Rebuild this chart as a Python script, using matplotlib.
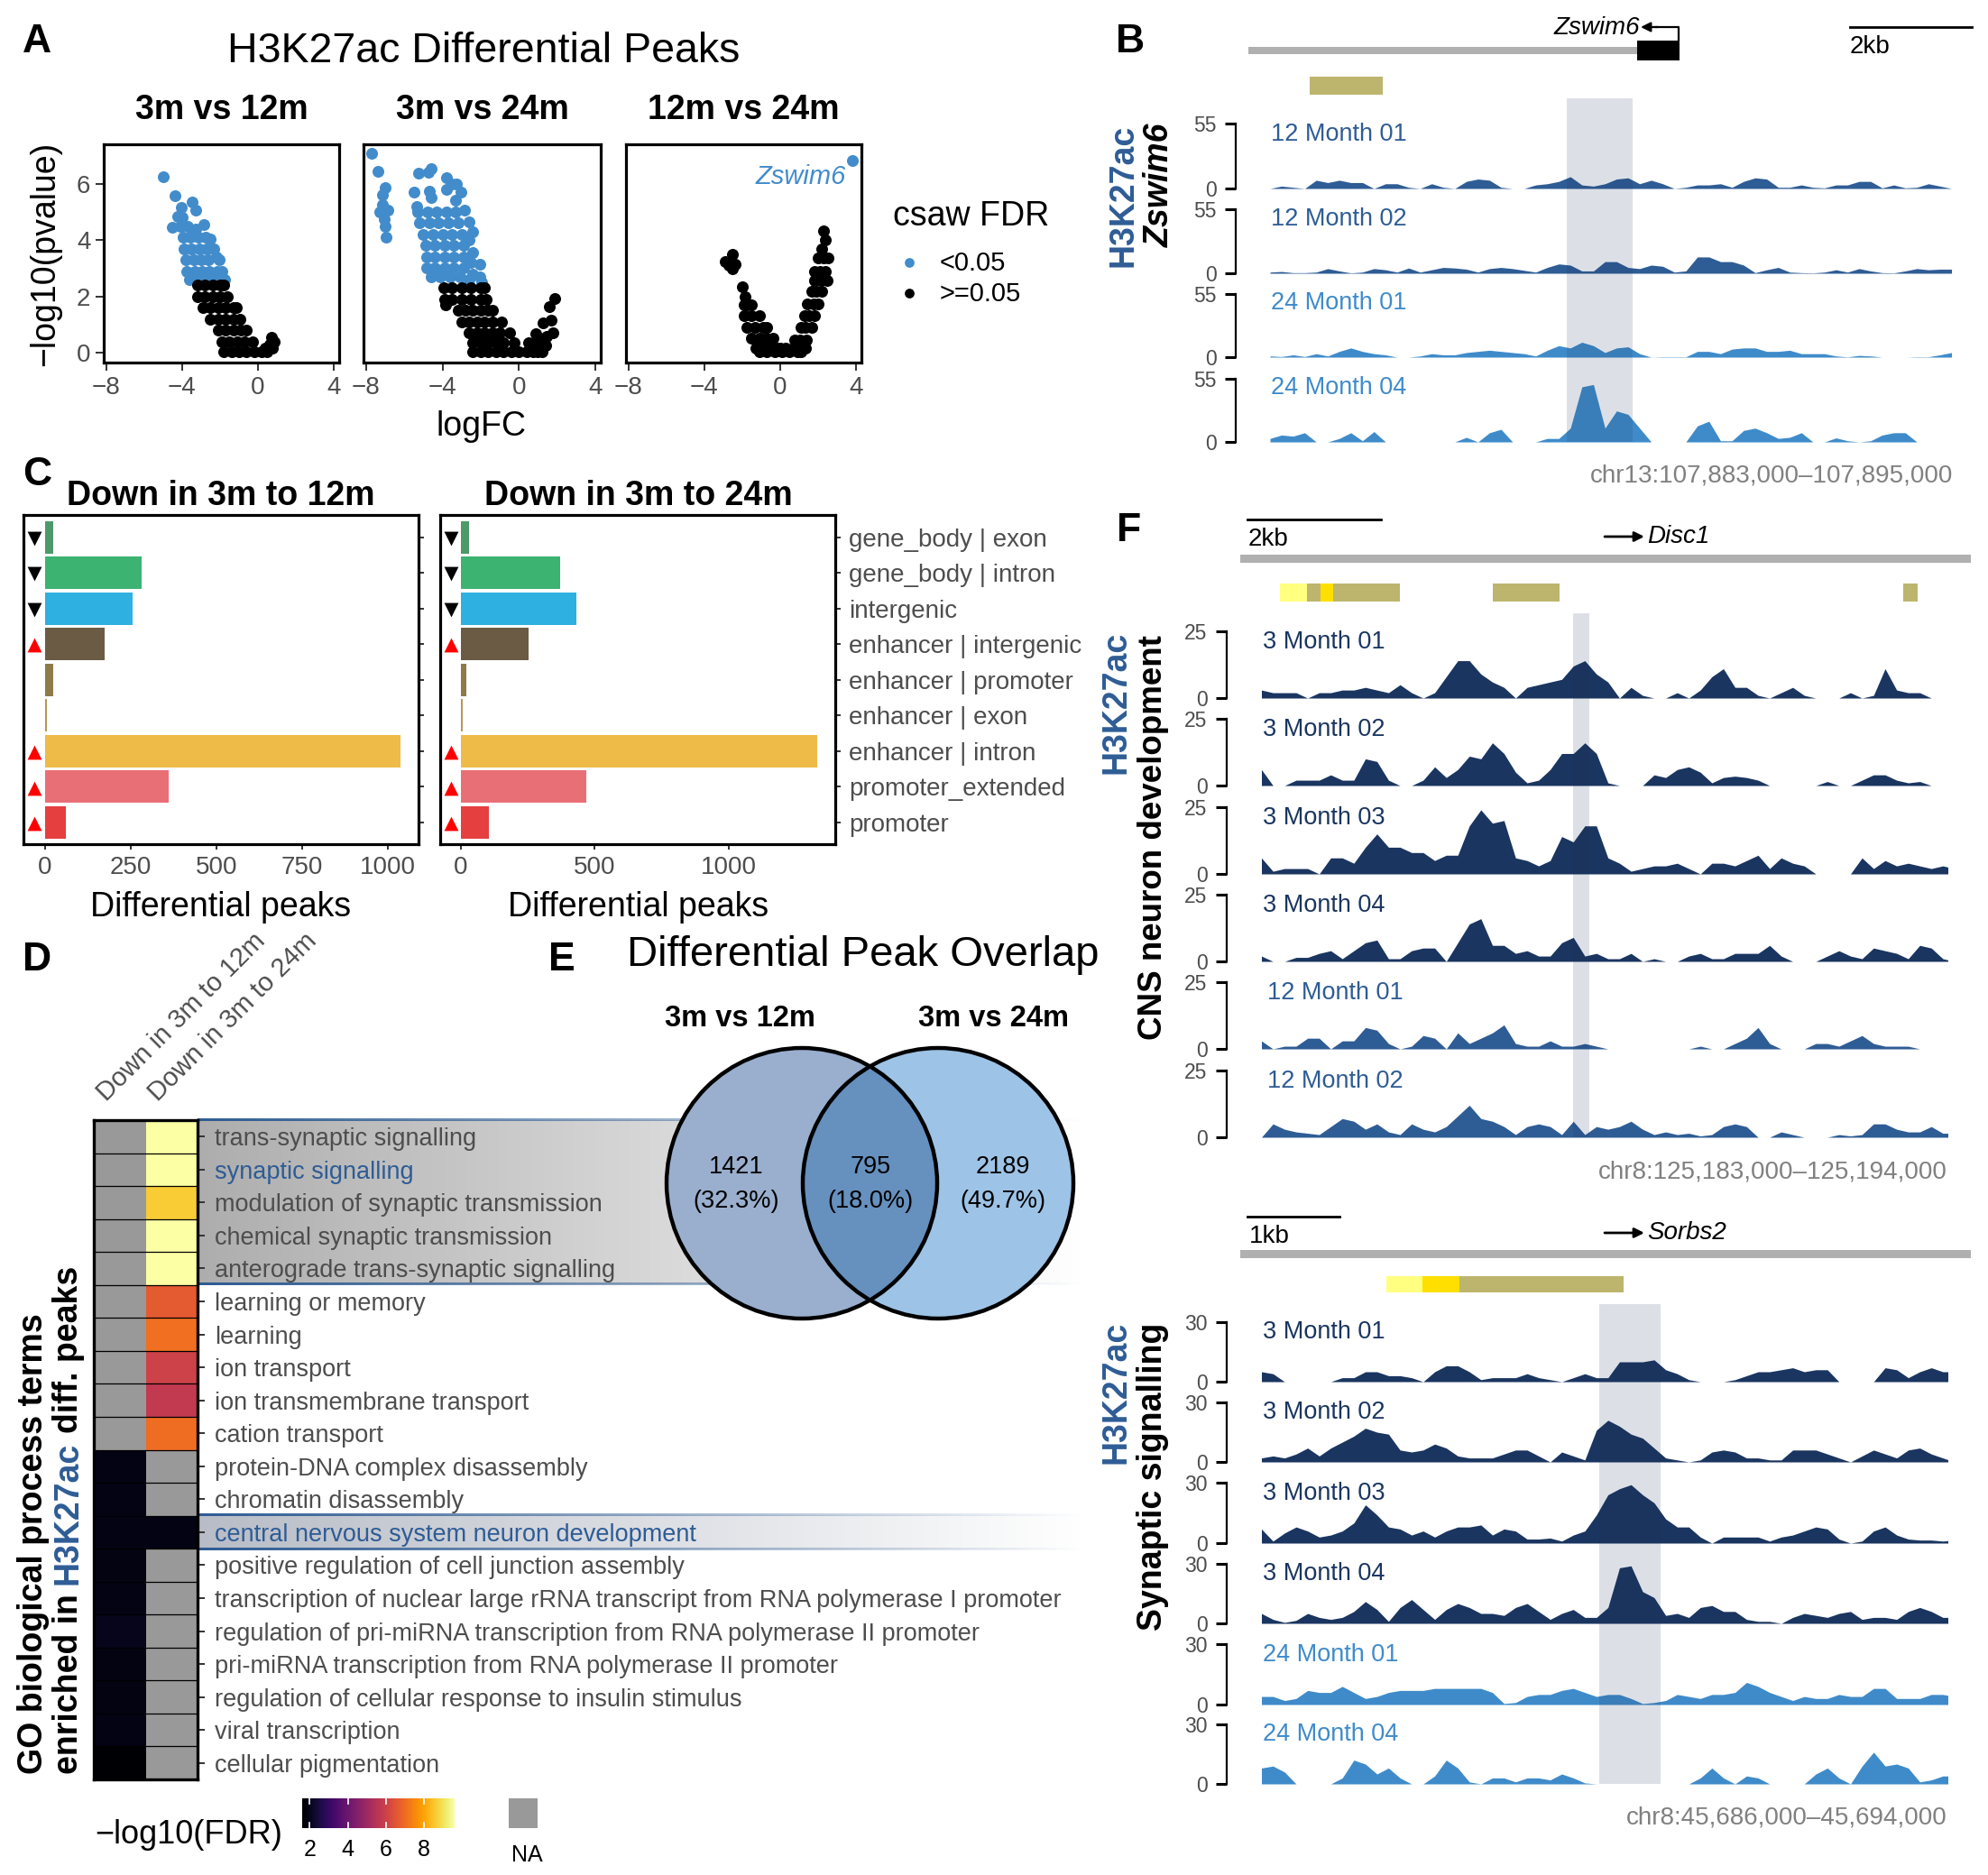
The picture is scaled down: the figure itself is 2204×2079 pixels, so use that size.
import numpy as np
import matplotlib
matplotlib.use('Agg')
import matplotlib.pyplot as plt
from matplotlib.patches import Rectangle, Circle

plt.rcParams['font.family'] = ['Liberation Sans', 'DejaVu Sans']

W, H = 2204, 2079
GREY = '#4D4D4D'
NAVY, MID, LIGHT = '#1A3560', '#2E5C95', '#3F8BCA'
KHAKI, PALE, GOLD = '#BDB56E', '#FFFF80', '#FFDF00'

# ---------------- A: volcano points (logFC, -log10 p)
P1_BLUE = [(-5.0,6.25),(-4.4,5.57),(-3.47,5.36),(-3.3,5.06),(-4.05,5.15),(-4.25,4.85),(-4.0,4.8),(-4.5,4.45),(-4.1,4.5),
           (-3.7,4.5),(-3.3,4.4),(-2.85,4.55),(-3.95,4.1),(-3.55,4.1),(-3.15,4.1),(-2.75,4.1),(-2.5,4.05),
           (-3.9,3.7),(-3.5,3.7),(-3.1,3.7),(-2.7,3.7),(-2.35,3.7),(-3.8,3.3),(-3.4,3.3),(-3.0,3.3),(-2.6,3.3),(-2.2,3.4),(-2.05,3.3),
           (-3.75,2.9),(-3.35,2.9),(-2.95,2.9),(-2.55,2.9),(-2.15,2.9),(-1.9,2.9),(-3.6,2.6),(-3.2,2.6),(-2.8,2.6),(-2.4,2.6),(-2.0,2.6),(-1.75,2.6)]
P1_BLACK = [(-3.2,2.4),(-2.8,2.4),(-2.4,2.4),(-2.0,2.4),(-1.8,2.4),(-3.2,2.0),(-2.8,2.0),(-2.4,2.0),(-2.0,2.0),(-1.6,2.0),
            (-2.9,1.6),(-2.5,1.6),(-2.1,1.6),(-1.7,1.6),(-1.3,1.6),(-1.15,1.6),(-2.5,1.2),(-2.1,1.2),(-1.7,1.2),(-1.3,1.2),(-0.95,1.2),
            (-2.1,0.8),(-1.7,0.8),(-1.3,0.8),(-0.9,0.8),(-0.6,0.8),(-1.9,0.4),(-1.5,0.4),(-1.1,0.4),(-0.7,0.4),(-0.3,0.4),
            (-1.8,0.04),(-1.4,0.04),(-1.0,0.04),(-0.6,0.04),(-0.2,0.04),(0.2,0.04),(0.5,0.04),
            (0.7,0.55),(0.85,0.4),(0.6,0.3),(0.4,0.15),(0.75,0.15)]
P2_BLUE = [(-7.7,7.09),(-7.4,6.43),(-7.0,5.86),(-7.15,5.6),(-7.15,5.27),(-7.3,5.0),(-6.85,5.05),(-7.0,4.47),(-6.95,4.1),(-7.05,4.75),
           (-5.25,6.36),(-4.6,6.55),(-4.75,6.4),(-3.8,6.2),(-3.25,6.0),(-3.05,5.7),(-3.5,6.0),(-4.7,5.75),(-4.6,5.5),(-5.5,5.7),(-5.35,5.2),
           (-3.8,5.8),(-3.3,5.4),(-2.85,5.05),(-2.6,4.63),(-2.4,4.3),(-2.4,3.56),(-2.05,3.13),(-2.05,2.7),
           (-5.3,5.0),(-4.8,5.0),(-4.3,5.0),(-3.8,5.0),(-3.3,5.0),(-5.2,4.6),(-4.7,4.6),(-4.2,4.6),(-3.7,4.6),(-3.2,4.6),
           (-5.0,4.2),(-4.5,4.2),(-4.0,4.2),(-3.5,4.2),(-3.0,4.2),(-2.6,4.0),(-4.9,3.8),(-4.4,3.8),(-3.9,3.8),(-3.4,3.8),(-2.9,3.8),
           (-4.85,3.4),(-4.4,3.4),(-3.9,3.4),(-3.4,3.4),(-2.9,3.4),(-2.5,3.2),(-4.85,3.0),(-4.4,3.0),(-3.9,3.0),(-3.4,3.0),(-2.9,3.0),(-2.4,2.8),
           (-4.6,2.7),(-4.1,2.7),(-3.6,2.7),(-3.1,2.7),(-2.6,2.6),(-1.95,2.5)]
P2_BLACK = [(-3.95,2.3),(-3.5,2.3),(-3.0,2.3),(-2.5,2.3),(-2.0,2.3),(-1.8,2.3),(-3.9,1.9),(-3.5,1.9),(-3.0,1.9),(-2.5,1.9),(-2.0,1.9),(-1.7,1.9),
            (-3.85,1.7),(-3.2,1.5),(-2.8,1.5),(-2.4,1.5),(-2.0,1.5),(-1.6,1.5),(-1.4,1.5),(-3.0,1.1),(-2.6,1.1),(-2.2,1.1),(-1.8,1.1),(-1.4,1.1),(-0.9,1.1),
            (-2.6,0.7),(-2.2,0.7),(-1.8,0.7),(-1.4,0.7),(-1.0,0.7),(-0.5,0.7),(-2.4,0.35),(-2.0,0.35),(-1.6,0.35),(-1.2,0.35),(-0.8,0.35),(-0.25,0.35),
            (-2.4,0.04),(-2.0,0.04),(-1.6,0.04),(-1.2,0.04),(-0.8,0.04),(-0.4,0.04),(0.0,0.04),(0.4,0.04),(0.75,0.04),(1.0,0.04),(1.2,0.04),
            (1.9,1.93),(1.6,1.64),(1.7,1.15),(1.25,1.05),(1.8,0.72),(1.45,0.57),(0.9,0.67),(0.5,0.35),(1.05,0.14),(1.4,0.25),(1.2,0.4),(0.8,0.35)]
P3_BLUE = [(3.8,6.82)]
P3_BLACK = [(-2.5,3.5),(-2.9,3.24),(-2.4,3.13),(-2.5,2.97),(-2.7,3.1),(-2.0,2.35),(-1.85,2.0),(-1.9,1.7),(-1.75,1.7),(-1.5,1.7),(-1.9,1.3),(-1.5,1.3),(-1.1,1.3),
            (-1.75,0.9),(-1.35,0.9),(-0.9,0.9),(-0.7,0.9),(-1.5,0.5),(-1.1,0.5),(-0.7,0.5),(-0.4,0.5),(-1.3,0.15),(-0.9,0.15),(-0.5,0.15),(-0.2,0.15),(0.0,0.15),(0.3,0.15),(0.7,0.15),(1.1,0.15),(1.35,0.15),
            (-1.1,0.04),(-0.7,0.04),(-0.3,0.04),(0.1,0.04),(0.5,0.04),(0.9,0.04),(1.1,0.04),
            (2.3,4.31),(2.37,4.0),(2.2,3.67),(2.55,3.35),(2.0,3.35),(2.3,3.35),(1.8,2.9),(2.37,2.9),(2.1,2.9),(2.48,2.55),(1.8,2.55),(2.15,2.55),(1.65,2.17),(2.2,2.17),(1.9,2.17),
            (1.45,1.74),(2.0,1.74),(1.75,1.74),(1.28,1.3),(1.8,1.3),(1.55,1.3),(1.1,0.9),(1.65,0.9),(1.35,0.9),(0.75,0.45),(1.4,0.45),(1.05,0.45)]
VOLCANO_TITLES = ['3m vs 12m', '3m vs 24m', '12m vs 24m']

# ---------------- C: differential peaks by annotation
CATEGORIES = ['gene_body | exon', 'gene_body | intron', 'intergenic', 'enhancer | intergenic', 'enhancer | promoter',
              'enhancer | exon', 'enhancer | intron', 'promoter_extended', 'promoter']
DOWN_12M = [25, 281, 254, 174, 23, 6, 1036, 361, 61]
DOWN_24M = [30, 371, 433, 253, 21, 8, 1330, 468, 105]
CAT_COLORS = ['#4C9A6A', '#3CB371', '#2EB0E0', '#6B5B45', '#8F7A4A', '#B8955A', '#EEBB49', '#E96F77', '#E53F3F']
TREND = ['down', 'down', 'down', 'up', None, None, 'up', 'up', 'up']

# ---------------- D: GO terms
GO_TERMS = ['trans-synaptic signalling', 'synaptic signalling', 'modulation of synaptic transmission',
            'chemical synaptic transmission', 'anterograde trans-synaptic signalling', 'learning or memory', 'learning',
            'ion transport', 'ion transmembrane transport', 'cation transport', 'protein-DNA complex disassembly',
            'chromatin disassembly', 'central nervous system neuron development',
            'positive regulation of cell junction assembly',
            'transcription of nuclear large rRNA transcript from RNA polymerase I promoter',
            'regulation of pri-miRNA transcription from RNA polymerase II promoter',
            'pri-miRNA transcription from RNA polymerase II promoter', 'regulation of cellular response to insulin stimulus',
            'viral transcription', 'cellular pigmentation']
nan = float('nan')
FDR_12M = [nan]*10 + [1.9, 1.9, 1.9, 1.85, 1.9, 2.0, 1.85, 1.85, 1.9, 1.6]
FDR_24M = [9.6, 9.6, 8.6, 9.6, 9.6, 6.6, 7.05, 6.0, 5.75, 7.0, nan, nan, 1.9, nan, nan, nan, nan, nan, nan, nan]

# ---------------- E: Venn
VENN_COUNTS = ['1421', '795', '2189']
VENN_PCT = ['(32.3%)', '(18.0%)', '(49.7%)']

# ---------------- B: Zswim6 signal, bins across 12 kb
Z_12M01 = [0,2,1,0,7,5,7,5,5,0,4,4,1,0,4,1,0,6,8,7,1,0,0,3,4,6,10,3,2,4,8,9,4,7,4,0,1,3,3,4,1,6,9,8,1,1,3,1,.5,3,3,6,6,.5,3,.5,1,4,2,0]
Z_12M02 = [1,1.5,.5,.5,1,4,2,.3,1,4,3,1,4.5,1,3,5,4.5,3.5,1,4,5,4,2.5,1,5,8,7,2,2,10,10,5,4,7,6,1,2,14,14,10,10,7,.5,3,5,1,.5,.3,1,3,1,4,2,.5,.3,2,4,3,3.5,3.5]
Z_24M01 = [1,.5,2,.5,3,1,5,8,5,3,2,0,0,1,3,2,2,4,5,6,5,4,3,1,6,10,8,13,10,4,8,9,3,0,.3,.3,.3,5,5,3,7,8,8,5,5,6,3,3,3,1,.2,1.5,1,0,0,0,.3,.3,2,4]
Z_24M04 = [3,6,5,8,0,0,3,8,1,9,0,0,0,0,0,0,0,4,0,8,11,0,0,0,3,3,12,48,50,12,27,24,12,0,0,0,0,14,18,1,1,10,12,8,3,4,8,0,0,3.5,1,0,1,6,8,8,0,0,0,0]

# ---------------- F: Disc1 signal, bins across 11 kb
D_3M01 = [3,2,2,2,0,2,2,3,3,4,3,2,5,2,0,2,8,14,14,9,6,4,0,4,5,6,7,12,14,9,6,0,4,1,0,0,2,0,3,8,11,4,4,1,0,2,4,1,0,0,0,2,0,1,11,3,2,2,0,0,0]
D_3M02 = [6,0,0,2,2,2,4,2,2,10,9,2,0,0,2,7,3,6,11,10,16,12,5,1,2,6,12,12,16,12,1,0,0,0,4,3,6,7,5,1,3,3.5,3,2,0,0,0,0,0,1.5,0,0,2,4,4,2,1,1.5,0,0,0]
D_3M03 = [6,1,2,2,2,0,6,6,4,10,15,10,10,8,8,5,7,7,18,24,19,20,6,5,3,5,14,12,18,18,6,4,1,2,3,3,4,2,0,4,4,3,5,7,2,6,4,3,0,0,0,0,6,2,5,3,4,3,2,3,2]
D_3M04 = [2,0,0,1.5,1.5,3,4,1,4,7,8,1,1,4,5,5,0,7,14,16,6,6,3,4,2,2,7,9,2,3,1,1,3,0,1,0,0,2,3,1,1,3,3,3,6,2,0,0,0,2,4,2,1,5,4,3,1,6,5,1,0]
D_12M01 = [3,0,1,1,4,4,0,3,3,8,7,2,0,1,5,4,0,6,2,4,6,9,2,1,1,3,1,1,2,1,0,0,0,0,0,0,0,0,1,0,0,2,4,8,2,0,0,0,2,2,1,3,5,2,1,1,1,0,0,0]
D_12M02 = [0,5,3,2,1.5,1,4,7,6,3,5,2,1,5,3,2,4,8,12,7,6,4,1,4,5,4,1,6,1,4,3,4,6,3,1,2,1,1.5,.5,1,4,5,4,0,0,2,1,0,0,0,1,.5,1,5,5,3,2,2,4,1.5,1.5]

# ---------------- F: Sorbs2 signal, bins across 8 kb
S_3M01 = [5,4,0,0,0,0,0,2,2,5,5,3,3,2,0,5,8,8,5,1,2,2,2,4,2,1,0,2,4,2,2,10,10,10,11,6,4,1,0,0,0,1,3,5,5,6,7,5,6,6,0,0,0,0,7,6,2,5,7,5,5]
S_3M02 = [2,3,2,4,7,3,7,10,13,17,15,14,6,5,6,9,7,3,2,2,2,4,6,6,3,0,5,3,1,16,21,18,14,12,7,2,1,0,1,5,6,5,2,2,1,1,6,6,6,4,2,0,3,6,4,2,6,7,4,2,0]
S_3M03 = [7,1,5,8,6,3,4,6,10,19,14,8,7,4,6,3,6,8,8,9,4,7,6,2,2,2.5,1,4,6,14,24,27,29,24,20,12,8,8,3,0,3,3,3,3,1,3,4,6,8,7,2,0,1,6,8,4,2,1.5,1.5,1,1.5]
S_3M04 = [5,2,.5,1.5,5,3,2,3,6,11,7,1,8,12,7,2,7,10,8,5,5,4,8,10,6,2,5,7,3,3,8,28,29,16,13,4,5,3,8,9,6,6,2,1,1,0,3,5,4,3,5,6,2,3,3,2,6,8,6,3,3]
S_24M01 = [4,4,2,3,7,6,6,9,6,3,4,6,7,7,7,8,8,8,8,8,6,.5,1,4,5,5,7,8,6,4,5,5,3,.5,1,2,5,4,3,5,5,6,11,9,6,4,2,4,3,3,5,4,4,8,8,3,3,3,5,5,4]
S_24M04 = [8,9,6,0,0,0,0,3,12,10,5,8,3,0,0,4,12,8,1,0,3,3,1,3,3,2,5,3,.5,0,0,0,0,0,0,0,0,0,3,8,3,0,4,3,0,0,0,0,5,8,3,0,9,16,9,10,8,1,2,4,4]

fig = plt.figure(figsize=(W/100, H/100), dpi=100, facecolor='white')

def pax(x0, y0, x1, y1, **kw):
    return fig.add_axes([x0/W, 1-y1/H, (x1-x0)/W, (y1-y0)/H], **kw)

bg = pax(0, 0, W, H, zorder=0); bg.set_xlim(0, W); bg.set_ylim(H, 0); bg.axis('off')
ov = pax(0, 0, W, H, zorder=20); ov.set_xlim(0, W); ov.set_ylim(H, 0); ov.axis('off'); ov.patch.set_alpha(0)

def T(x, y, s, size=20, color='black', ha='center', va='center', **kw):
    return ov.text(x, y, s, fontsize=size, color=color, ha=ha, va=va, **kw)

for l, x, y in [('A',41,47),('B',1253,47),('C',41,526),('D',41,1064),('E',623,1064),('F',1252,589)]:
    T(x, y, l, size=32, fontweight='bold')

# ------- A
T(536, 57, 'H3K27ac Differential Peaks', size=33.5)
boxes = [(115,160,376,402),(403,160,666,402),(694,160,955,402)]
clouds = [(P1_BLUE,P1_BLACK),(P2_BLUE,P2_BLACK),(P3_BLUE,P3_BLACK)]
for i,(b,(blue,black)) in enumerate(zip(boxes,clouds)):
    ax = pax(*b, zorder=2)
    bx,by = zip(*blue); kx,ky = zip(*black)
    ax.scatter(bx,by,s=88,color='#428CCB',linewidths=0,zorder=2)
    ax.scatter(kx,ky,s=88,color='black',linewidths=0,zorder=3)
    ax.set_xlim(-8.14,4.29); ax.set_ylim(-0.35,7.4)
    ax.set_xticks([-8,-4,0,4]); ax.set_xticklabels(['\u22128','\u22124','0','4'],fontsize=20,color=GREY)
    if i==0:
        ax.set_yticks([0,2,4,6]); ax.set_yticklabels(['0','2','4','6'],fontsize=20,color=GREY)
    else:
        ax.set_yticks([])
    ax.tick_params(length=6.5,width=1.4,color='#333333',pad=4)
    for s in ax.spines.values(): s.set_linewidth(2.3)
    T((b[0]+b[2])/2, 122, VOLCANO_TITLES[i], size=27, fontweight='bold')
T(888, 196, 'Zswim6', size=21, color='#428CCB', style='italic')
T(534, 473, 'logFC', size=27)
T(50, 281, '\u2212log10(pvalue)', size=27, rotation=90)
T(1077, 240, 'csaw FDR', size=27)
ov.scatter([1008],[291],s=60,color='#428CCB',linewidths=0)
ov.scatter([1008],[325],s=60,color='black',linewidths=0)
T(1042, 292, '<0.05', size=21, ha='left')
T(1042, 326, '>=0.05', size=21, ha='left')

# ------- tracks
def track(values, step, span, axis_x, x0, x1, base, top, ymax, color):
    ax = pax(axis_x, top, x1, base, zorder=3)
    ax.patch.set_alpha(0)
    perpx = span/(x1-x0)
    x = np.arange(len(values))*step
    ax.fill_between(x, 0, values, color=color, linewidth=0)
    ax.set_xlim(-(x0-axis_x)*perpx, span); ax.set_ylim(0, ymax)
    for k in ['top','right','bottom']: ax.spines[k].set_visible(False)
    ax.spines['left'].set_linewidth(1.6)
    ax.set_xticks([]); ax.set_yticks([0,ymax]); ax.set_yticklabels(['0',str(ymax)],fontsize=16.5,color=GREY)
    ax.tick_params(axis='y',length=8.5,width=2.2,pad=7,color='black')

def gene_text(x, y, s): T(x, y, s, size=20, style='italic', ha='left')

# B
ov.add_patch(Rectangle((1384,52),431,8,color='#B0B0B0',lw=0))
ov.add_patch(Rectangle((1815,45),47,22,color='black',lw=0))
ov.plot([1861,1861,1835],[45,30,30],color='black',lw=1.6)
ov.annotate('',xy=(1819,30),xytext=(1838,30),arrowprops=dict(arrowstyle='-|>',color='black',lw=1.6,shrinkA=0,shrinkB=0,mutation_scale=16))
T(1818, 31, 'Zswim6', size=20, style='italic', ha='right')
ov.plot([2051,2186],[30,30],color='black',lw=2)
T(2051, 52, '2kb', size=20, ha='left')
ov.add_patch(Rectangle((1452,85),81,20,color=KHAKI,lw=0))
ov.add_patch(Rectangle((1737,109),73,381,color=(.1,.2,.35),alpha=.15,lw=0))
B_TR = [(Z_12M01,'12 Month 01',MID,209,137),(Z_12M02,'12 Month 02',MID,303,232),(Z_24M01,'24 Month 01',LIGHT,396,326),(Z_24M04,'24 Month 04',LIGHT,490,420)]
for v,lab,c,b,t in B_TR:
    track(v,0.2022,12,1370,1408,2168,b,t,55,c)
    T(1409,b-60,lab,size=19.5,color=c,ha='left')
T(2165,527,'chr13:107,883,000\u2013107,895,000',size=20,color='#808080',ha='right')
T(1246,217,'H3K27ac',size=27,color=MID,fontweight='bold',rotation=90)
T(1286,205,'Zswim6',size=27,fontweight='bold',style='italic',rotation=90)

# F Disc1
ov.plot([1383,1531],[576,576],color='black',lw=2)
T(1384,598,'2kb',size=20,ha='left')
ov.annotate('',xy=(1823,595),xytext=(1779,595),arrowprops=dict(arrowstyle='-|>',color='black',lw=2,shrinkA=0,shrinkB=0,mutation_scale=16))
T(1826,595,'Disc1',size=20,style='italic',ha='left')
ov.add_patch(Rectangle((1375,615),810,9,color='#B0B0B0',lw=0))
for x0,x1,c in [(1419,1449,PALE),(1449,1464,KHAKI),(1464,1478,GOLD),(1478,1552,KHAKI),(1655,1729,KHAKI),(2110,2126,KHAKI)]:
    ov.add_patch(Rectangle((x0,647),x1-x0,20,color=c,lw=0))
ov.add_patch(Rectangle((1744,680),18,581,color=(.1,.2,.35),alpha=.15,lw=0))
D_TR = [(D_3M01,'3 Month 01',NAVY,774,700),(D_3M02,'3 Month 02',NAVY,871,797),(D_3M03,'3 Month 03',NAVY,969,895),(D_3M04,'3 Month 04',NAVY,1066,992),(D_12M01,'12 Month 01',MID,1163,1089),(D_12M02,'12 Month 02',MID,1261,1187)]
for v,lab,c,b,t in D_TR:
    track(v,0.1852,11,1360,1398.5,2159,b,t,25,c)
    T(1405 if '12' in lab else 1405-5,b-62,lab,size=19.5,color=c,ha='left')
T(2159,1299,'chr8:125,183,000\u2013125,194,000',size=20,color='#808080',ha='right')
T(1237,779,'H3K27ac',size=27,color=MID,fontweight='bold',rotation=90)
T(1278,929,'CNS neuron development',size=26.5,fontweight='bold',rotation=90)

# F Sorbs2
ov.plot([1383,1485],[1349,1349],color='black',lw=2)
T(1385,1371,'1kb',size=20,ha='left')
ov.annotate('',xy=(1823,1367),xytext=(1779,1367),arrowprops=dict(arrowstyle='-|>',color='black',lw=2,shrinkA=0,shrinkB=0,mutation_scale=16))
T(1826,1367,'Sorbs2',size=20,style='italic',ha='left')
ov.add_patch(Rectangle((1375,1386),810,8.5,color='#B0B0B0',lw=0))
for x0,x1,c in [(1537,1577,PALE),(1577,1618,GOLD),(1618,1800,KHAKI)]:
    ov.add_patch(Rectangle((x0,1415),x1-x0,18,color=c,lw=0))
ov.add_patch(Rectangle((1773,1446),68,532,color=(.1,.2,.35),alpha=.15,lw=0))
S_TR = [(S_3M01,'3 Month 01',NAVY,1532,1466),(S_3M02,'3 Month 02',NAVY,1621,1555),(S_3M03,'3 Month 03',NAVY,1711,1644),(S_3M04,'3 Month 04',NAVY,1800,1734),(S_24M01,'24 Month 01',LIGHT,1890,1823),(S_24M04,'24 Month 04',LIGHT,1978,1912)]
for v,lab,c,b,t in S_TR:
    track(v,0.1347,8,1360,1398.5,2159,b,t,30,c)
    T(1400,b-55,lab,size=19.5,color=c,ha='left')
T(2159,2015,'chr8:45,686,000\u201345,694,000',size=20,color='#808080',ha='right')
T(1237,1544,'H3K27ac',size=27,color=MID,fontweight='bold',rotation=90)
T(1278,1637,'Synaptic signalling',size=27,fontweight='bold',rotation=90)

# ------- C
y = np.arange(len(CATEGORIES))
panels = [(26,571,464,936,DOWN_12M,(-63,1089),[0,250,500,750,1000],-31,'Down in 3m to 12m',245),
          (488,571,926,936,DOWN_24M,(-77.5,1399),[0,500,1000],-37,'Down in 3m to 24m',708)]
for i,(x0,y0,x1,y1,vals,xl,xt,mx,title,cx) in enumerate(panels):
    ax = pax(x0,y0,x1,y1,zorder=2)
    ax.barh(y,vals,height=.91,color=CAT_COLORS)
    for yy,tr in zip(y,TREND):
        if tr=='down': ax.scatter([mx],[yy+.03],marker='v',s=130,color='black',linewidths=0)
        elif tr=='up': ax.scatter([mx],[yy+.03],marker='^',s=130,color='red',linewidths=0)
    ax.set_xlim(*xl); ax.set_ylim(8.61,-.62)
    ax.set_xticks(xt); ax.set_xticklabels([str(t) for t in xt],fontsize=20,color=GREY)
    ax.yaxis.tick_right(); ax.set_yticks(y)
    ax.set_yticklabels(CATEGORIES if i==1 else ['']*9,fontsize=20,color=GREY)
    ax.tick_params(length=4,width=1.4,color='#333333',pad=7)
    ax.tick_params(axis='x',pad=5)
    for s in ax.spines.values(): s.set_linewidth(2.3)
    T(cx,550,title,size=27,fontweight='bold')
    T(cx,1006,'Differential peaks',size=27)

# ------- D
ROW = 36.55
def gradient_band(x0,x1,y0,y1,rgb,a0):
    g = np.zeros((1,256,4)); g[...,:3] = rgb; g[...,3] = np.linspace(a0,0,256)
    bg.imshow(g,extent=(x0,x1,y1,y0),aspect='auto',interpolation='bilinear',zorder=1)
gradient_band(219,1204,1242,1424,(.68,.68,.68),1)
gradient_band(219,1204,1680,1718,(.72,.74,.78),1)
for yy in (1242,1424,1680,1718):
    gradient_band(219,1204,yy-1.5,yy+1.5,(.18,.36,.58),1)
bg.set_xlim(0,W); bg.set_ylim(H,0)

hm = pax(104,1242,219,1973,zorder=3)
Z = np.ma.masked_invalid(np.array([FDR_12M,FDR_24M]).T)
hm.set_facecolor('#999999')
hm.pcolormesh(Z,cmap='inferno',vmin=1.6,vmax=9.6)
hm.hlines(np.arange(1,20),0,2,color='black',lw=.9)
hm.set_xlim(0,2); hm.set_ylim(20,0)
hm.set_xticks([]); hm.yaxis.tick_right(); hm.set_yticks(np.arange(20)+.5)
hm.set_yticklabels(GO_TERMS,fontsize=19.5,color=GREY)
for lab,t in zip(hm.get_yticklabels(),GO_TERMS):
    if t in ('synaptic signalling','central nervous system neuron development'): lab.set_color(MID)
hm.tick_params(length=6,width=1.4,color='#333333',pad=8)
for s in hm.spines.values(): s.set_linewidth(2.4)
for x,lab in [(122,'Down in 3m to 12m'),(179,'Down in 3m to 24m')]:
    T(x,1226,lab,size=21,color=GREY,rotation=45,ha='left',va='bottom',rotation_mode='anchor')

T(37,1967,'GO biological process terms',size=27,fontweight='bold',rotation=90,va='bottom')
fig.canvas.draw()
r = fig.canvas.get_renderer()
yp = 1967
for part,c in [('enriched in','black'),('H3K27ac',MID),('diff. peaks','black')]:
    t = T(76,yp,part,size=27,fontweight='bold',color=c,rotation=90,va='bottom')
    yp -= t.get_window_extent(r).height + 10

T(209,2035,'\u2212log10(FDR)',size=26)
cb = pax(335,1994,504,2027,zorder=3)
cb.imshow(np.linspace(1.6,9.6,256)[None,:],cmap='inferno',vmin=1.6,vmax=9.6,extent=(1.6,9.6,0,1),aspect='auto')
for t in (2,4,6,8):
    cb.plot([t,t],[0,.18],color='white',lw=1.2); cb.plot([t,t],[.82,1],color='white',lw=1.2)
cb.set_ylim(0,1); cb.set_xlim(1.6,9.6); cb.set_yticks([]); cb.set_xticks([2,4,6,8])
cb.set_xticklabels(['2','4','6','8'],fontsize=18); cb.tick_params(length=0,pad=9)
for s in cb.spines.values(): s.set_visible(False)
ov.add_patch(Rectangle((564,1994),32,33,color='#999999',lw=0))
T(584,2057,'NA',size=18)

# ------- E
T(957,1059,'Differential Peak Overlap',size=34)
T(820,1130,'3m vs 12m',size=23.5,fontweight='bold')
T(1102,1130,'3m vs 24m',size=23.5,fontweight='bold')
ven = pax(0,0,W,H,zorder=4); ven.set_xlim(0,W); ven.set_ylim(H,0); ven.axis('off'); ven.patch.set_alpha(0)
c1 = Circle((889,1312),150,color='#9AAFCE',lw=0); c2 = Circle((1040,1312),150,color='#9DC3E6',lw=0)
ven.add_patch(c1); ven.add_patch(c2)
over = Circle((889,1312),150,color='#6690BE',lw=0); ven.add_patch(over); over.set_clip_path(c2)
for cx in (889,1040):
    ven.add_patch(Circle((cx,1312),150,fill=False,ec='black',lw=3.2))
for x,a,b in zip((816,965,1112),VENN_COUNTS,VENN_PCT):
    T(x,1294,a,size=19.5); T(x,1332,b,size=19.5)

fig.savefig('out.png',dpi=100)
